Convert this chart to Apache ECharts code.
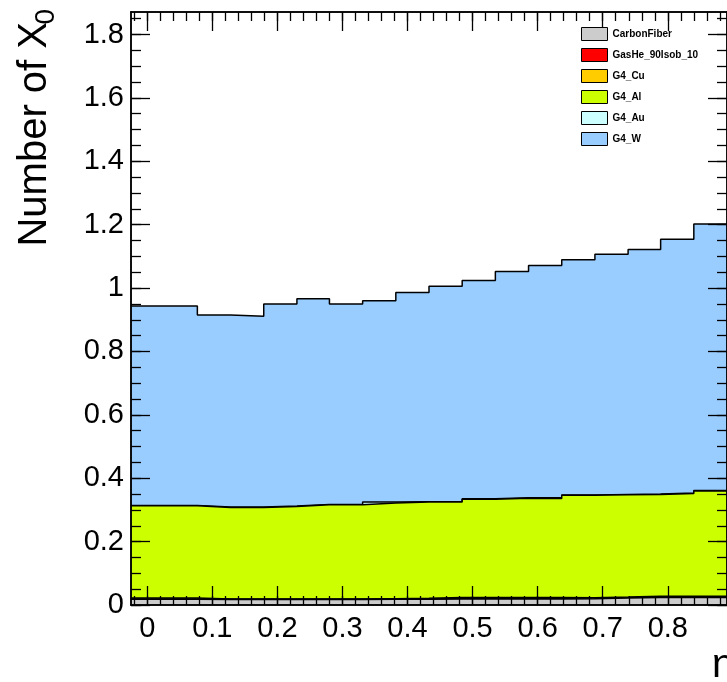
<!DOCTYPE html>
<html>
<head>
<meta charset="utf-8">
<script src="https://cdn.jsdelivr.net/npm/echarts@6/dist/echarts.min.js"></script>
<style>
html, body { margin: 0; padding: 0; background: #fff; }
#main { width: 727px; height: 682px; }
</style>
</head>
<body>
<div id="main"></div>
<script>
// bin low edges (eta), last entry is the upper edge of the last bin
const binEdges = [-0.025, 0.026, 0.077, 0.128, 0.179, 0.230, 0.280, 0.331, 0.382, 0.433,
                  0.484, 0.535, 0.586, 0.637, 0.688, 0.739, 0.789, 0.840, 0.891];

// radiation length per material, one value per bin (stacked bottom -> top)
const carbonFiber = [0.018, 0.018, 0.017, 0.017, 0.017, 0.017, 0.017, 0.018, 0.018,
                     0.019, 0.019, 0.019, 0.019, 0.020, 0.022, 0.024, 0.024, 0.024];
const gasHe = [0.001, 0.001, 0.001, 0.001, 0.001, 0.001, 0.001, 0.001, 0.001,
               0.001, 0.001, 0.001, 0.001, 0.001, 0.001, 0.001, 0.001, 0.001];
const g4Cu = [0.003, 0.003, 0.001, 0.001, 0.001, 0.001, 0.001, 0.001, 0.002,
              0.004, 0.004, 0.004, 0.004, 0.002, 0.002, 0.003, 0.003, 0.003];
const g4Al = [0.291, 0.291, 0.289, 0.289, 0.292, 0.297, 0.297, 0.302, 0.304,
              0.301, 0.310, 0.313, 0.312, 0.323, 0.323, 0.321, 0.324, 0.332];
const g4Au = [0.001, 0.001, 0.001, 0.001, 0.001, 0.001, 0.001, 0.003, 0.001,
              0.001, 0.001, 0.001, 0.003, 0.001, 0.001, 0.001, 0.001, 0.001];
const g4W = [0.629, 0.629, 0.606, 0.602, 0.638, 0.649, 0.633, 0.635, 0.660,
             0.680, 0.689, 0.714, 0.732, 0.742, 0.758, 0.772, 0.801, 0.841];

const names = ['CarbonFiber', 'GasHe_90Isob_10', 'G4_Cu', 'G4_Al', 'G4_Au', 'G4_W'];
const colors = ['#cccccc', '#ff0000', '#ffcc00', '#ccff00', '#ccffff', '#99ccff'];

const xLabels = [0, 0.1, 0.2, 0.3, 0.4, 0.5, 0.6, 0.7, 0.8];
const yLabels = [0, 0.2, 0.4, 0.6, 0.8, 1, 1.2, 1.4, 1.6, 1.8];

const xMin = -0.025, xMax = 0.891, yMin = 0, yMax = 1.871;

let xMinor = [];
for (let i = -1; i <= 44; i++) xMinor.push(+(i * 0.02).toFixed(2));
let yMinor = [];
for (let i = 0; i <= 37; i++) yMinor.push(+(i * 0.05).toFixed(2));

const layers = [carbonFiber, gasHe, g4Cu, g4Al, g4Au, g4W];

// running sums, so each layer is drawn from 0 up to its stacked top
let cumulative = [];
let running = layers[0].map(() => 0);
layers.forEach(vals => {
    running = running.map((r, i) => r + vals[i]);
    cumulative.push(running.slice());
});

function steps(vals) {
    return binEdges.map((x, i) => [x, vals[Math.min(i, vals.length - 1)]]);
}

const font = 'Liberation Sans, Arial, Helvetica, sans-serif';

function xAxisDef(pos, ticks, len, withLabels) {
    return {
        type: 'value', position: pos, min: xMin, max: xMax, z: 10,
        axisLine: { show: true, onZero: false, lineStyle: { color: '#000', width: 1.5 } },
        axisTick: { show: true, inside: true, length: len, customValues: ticks,
                    lineStyle: { color: '#000', width: 1.3 } },
        axisLabel: withLabels ? {
            show: true, customValues: xLabels, margin: 9,
            color: '#000', fontSize: 29, fontFamily: font,
            formatter: v => String(v)
        } : { show: false },
        splitLine: { show: false }
    };
}

function yAxisDef(pos, ticks, len, withLabels) {
    return {
        type: 'value', position: pos, min: yMin, max: yMax, z: 10,
        axisLine: { show: true, onZero: false, lineStyle: { color: '#000', width: 1.5 } },
        axisTick: { show: true, inside: true, length: len, customValues: ticks,
                    lineStyle: { color: '#000', width: 1.3 } },
        axisLabel: withLabels ? {
            show: true, customValues: yLabels, margin: 7,
            color: '#000', fontSize: 29, fontFamily: font,
            formatter: v => String(v)
        } : { show: false },
        splitLine: { show: false }
    };
}

let chart = echarts.init(document.getElementById('main'));

chart.setOption({
    backgroundColor: '#fff',
    animation: false,
    grid: { left: 131, right: -7, top: 12, bottom: 77, containLabel: false },
    legend: {
        orient: 'vertical', left: 576, top: 22, z: 20,
        itemWidth: 26, itemHeight: 13, itemGap: 7,
        icon: 'rect',
        itemStyle: { borderColor: '#000', borderWidth: 1 },
        textStyle: { color: '#000', fontSize: 10, fontWeight: 'bold', fontFamily: font },
        data: names
    },
    xAxis: [
        xAxisDef('bottom', xLabels, 19, true),
        xAxisDef('bottom', xMinor, 9, false),
        xAxisDef('top', xLabels, 19, false),
        xAxisDef('top', xMinor, 9, false)
    ],
    yAxis: [
        yAxisDef('left', yLabels, 19, true),
        yAxisDef('left', yMinor, 10, false),
        yAxisDef('right', yLabels, 19, false),
        yAxisDef('right', yMinor, 10, false)
    ],
    // top layer drawn first, lower layers painted over it
    series: cumulative.map((vals, i) => ({
        name: names[i],
        type: 'line',
        step: 'end',
        symbol: 'none',
        z: 8 - i,
        xAxisIndex: 0,
        yAxisIndex: 0,
        itemStyle: { color: colors[i] },
        lineStyle: { color: '#000', width: 1.5 },
        areaStyle: { color: colors[i], opacity: 1, origin: 'start' },
        data: steps(vals)
    })),
    graphic: [
        {
            type: 'text', x: 35, y: 22, rotation: Math.PI / 2,
            style: { text: 'Number of X', fontSize: 40, fontFamily: font, fill: '#000',
                     align: 'right', verticalAlign: 'middle' }
        },
        {
            type: 'text', x: 46, y: 9, rotation: Math.PI / 2,
            style: { text: '0', fontSize: 28, fontFamily: font, fill: '#000',
                     align: 'right', verticalAlign: 'middle' }
        },
        {
            type: 'text', x: 712, y: 646,
            style: { text: 'η', fontSize: 40, fontFamily: font, fill: '#000',
                     align: 'left', verticalAlign: 'top' }
        }
    ]
});
</script>
</body>
</html>
